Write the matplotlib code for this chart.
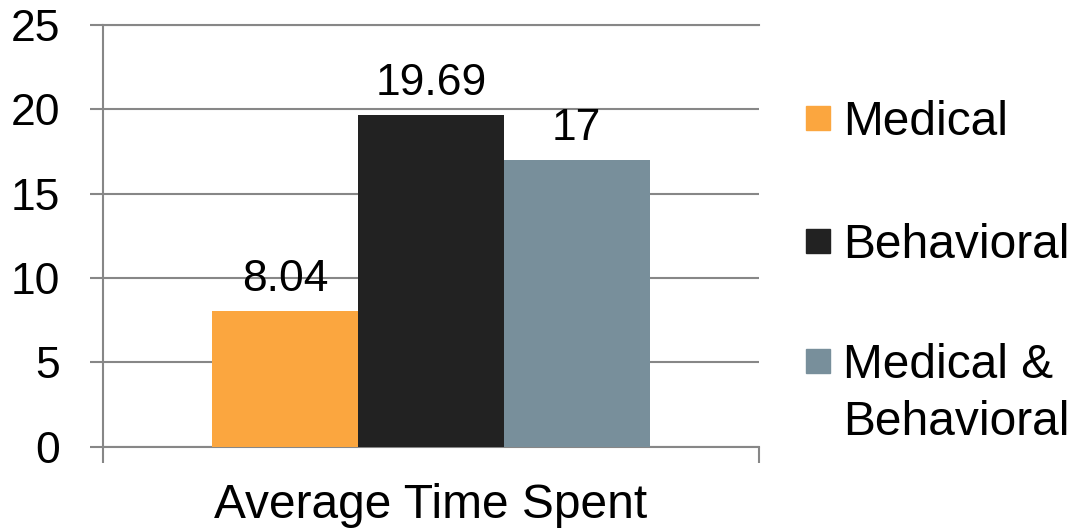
import matplotlib
matplotlib.use("Agg")
import matplotlib.pyplot as plt
import numpy as np
from matplotlib.patches import Rectangle

plt.rcParams['font.family'] = ['Liberation Sans', 'DejaVu Sans']

category = "Average Time Spent"
series = ["Medical", "Behavioral", "Medical &\nBehavioral"]
values = [8.04, 19.69, 17]
labels = ["8.04", "19.69", "17"]
colors = ["#FBA63F", "#222222", "#788F9B"]

grid_col = "#878787"
W, H = 1071, 531

fig = plt.figure(figsize=(W / 100, H / 100), dpi=100)
ax = fig.add_axes([102.7 / W, (H - 446.7) / H, (759 - 102.7) / W, (446.7 - 25) / H])

# bars
bw = 2 / 9
xs = (np.arange(len(values)) - 1) * bw
bars = ax.bar(xs, values, width=bw, color=colors, zorder=3)

for x, v, lab in zip(xs, values, labels):
    ax.annotate(lab, (x, v), xytext=(0, 14.4), textcoords="offset points",
                ha="center", va="baseline", fontsize=32, zorder=4)

ax.set_xlim(-0.5, 0.5)
ax.set_ylim(0, 25)
ax.set_yticks(np.arange(0, 26, 5))
ax.yaxis.grid(True, color=grid_col, linewidth=1.5, zorder=0)
ax.tick_params(axis="y", length=9.5, width=1.5, color=grid_col, pad=21, labelsize=32)

# category boundaries as ticks, category name as minor tick label
ax.set_xticks([-0.5, 0.5])
ax.set_xticklabels(["", ""])
ax.set_xticks([0], minor=True)
ax.set_xticklabels([category], minor=True)
ax.tick_params(axis="x", which="major", length=11.5, width=1.5, color=grid_col)
ax.tick_params(axis="x", which="minor", length=0, pad=26, labelsize=34.5)

for side in ["left", "bottom", "top"]:
    ax.spines[side].set_color(grid_col)
    ax.spines[side].set_linewidth(1.5)
ax.spines["right"].set_visible(False)

# legend drawn by hand (pixel positions from reference)
baselines = [135, 258, 378]
for name, col, base in zip(series, colors, baselines):
    cy = base - 17
    fig.add_artist(Rectangle((806 / W, (H - cy - 12) / H), 24 / W, 24 / H,
                             transform=fig.transFigure, color=col))
    for i, line in enumerate(name.split("\n")):
        fig.text(843 / W, (H - base - i * 57) / H, line, fontsize=34.5,
                 va="baseline", ha="left")

fig.savefig("out.png", dpi=100)
